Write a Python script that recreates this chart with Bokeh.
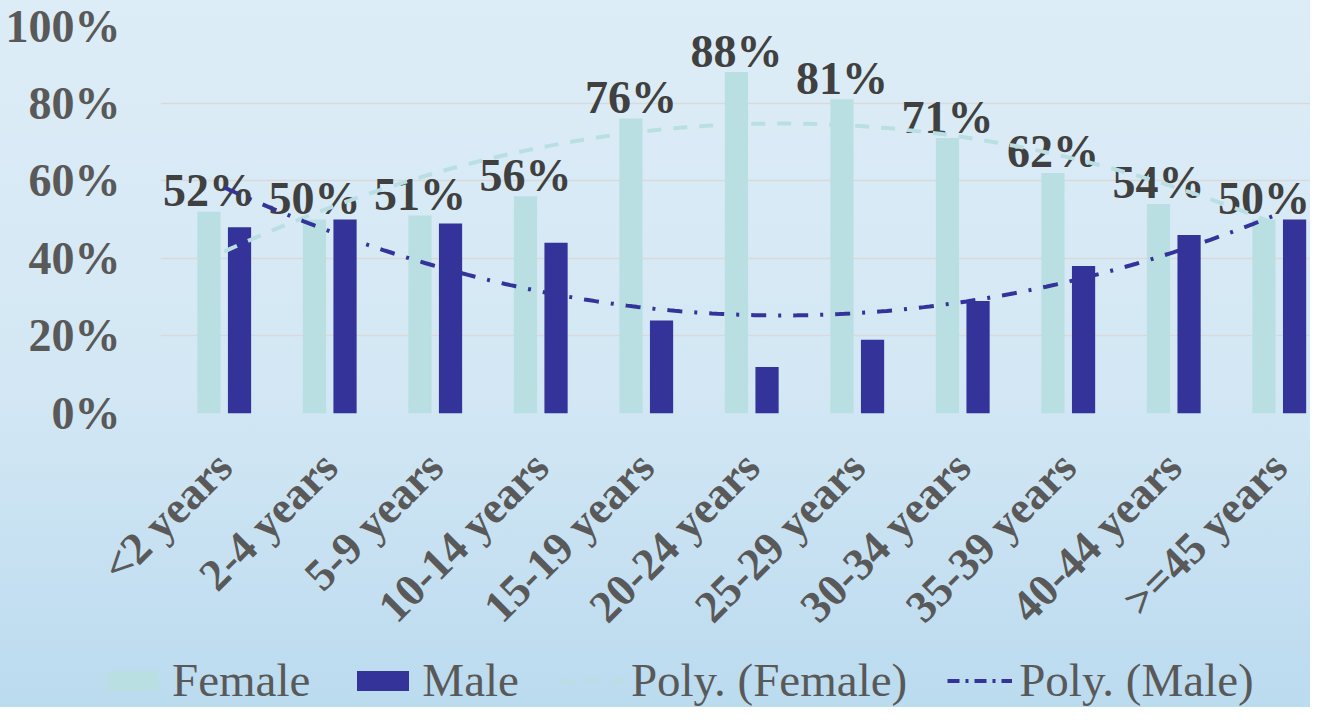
import numpy as np
from bokeh.plotting import figure
from bokeh.layouts import column
from bokeh.models import ColumnDataSource, Range1d, PrintfTickFormatter, FixedTicker, Legend, LegendItem
from bokeh.core.properties import value
from bokeh.embed import file_html
from bokeh.resources import INLINE

categories = ["<2 years", "2-4 years", "5-9 years", "10-14 years", "15-19 years", "20-24 years",
              "25-29 years", "30-34 years", "35-39 years", "40-44 years", ">=45 years"]
female = [52, 50, 51, 56, 76, 88, 81, 71, 62, 54, 50]
male = [48, 50, 49, 44, 24, 12, 19, 29, 38, 46, 50]
y_ticks = [0, 20, 40, 60, 80, 100]
legend_labels = ["Female", "Male", "Poly. (Female)", "Poly. (Male)"]

FEMALE_C = "#B9DFE3"
MALE_C = "#333399"
SERIF = "Liberation Serif"
W = 1310
H_MAIN = 652
H_LEG = 55

idx = np.arange(len(categories))
src = ColumnDataSource(dict(xf=idx - 0.145, xm=idx + 0.145, female=female, male=male,
                            flabel=[f"{v}%" for v in female]))

p = figure(x_range=Range1d(-0.604, 10.296), y_range=Range1d(0, 100), width=W, height=H_MAIN,
           output_backend="svg", toolbar_location=None,
           min_border_left=160, min_border_right=0, min_border_top=25, min_border_bottom=239)
p.styles = {"background-image": "linear-gradient(#DDEDF7, #D3E7F4 60%, #BFDDF0)"}
p.background_fill_color = None
p.border_fill_color = None
p.outline_line_color = None

p.xgrid.grid_line_color = None
p.ygrid.grid_line_color = "#D9D9D9"
p.ygrid.grid_line_width = 1.5
p.yaxis.ticker = FixedTicker(ticks=y_ticks)
p.yaxis.formatter = PrintfTickFormatter(format="%d%%")
p.xaxis.ticker = FixedTicker(ticks=list(idx))
p.xaxis.major_label_overrides = {int(i): c for i, c in zip(idx, categories)}

for ax in (p.xaxis, p.yaxis):
    ax.axis_line_color = None
    ax.major_tick_line_color = None
    ax.minor_tick_line_color = None
    ax.major_label_text_font = SERIF
    ax.major_label_text_font_style = "bold"
    ax.major_label_text_color = "#595959"
p.yaxis.major_label_text_font_size = "46px"
p.xaxis.major_label_text_font_size = "45px"
p.yaxis.major_label_standoff = 34
p.xaxis.major_label_orientation = np.pi / 4
p.xaxis.major_label_standoff = 40

p.vbar(x="xf", top="female", width=0.22, source=src, fill_color=FEMALE_C, line_color=None)
p.vbar(x="xm", top="male", width=0.22, source=src, fill_color=MALE_C, line_color=None)

p.text(x="xf", y="female", text="flabel", source=src,
       text_font=value(SERIF), text_font_style="bold", text_font_size="46px",
       text_color="#404040", text_align="center", text_baseline="alphabetic", y_offset=-21)

# polynomial (order 2) trendlines, as in the original chart
xs = np.linspace(0, len(categories) - 1, 200)
cf = np.polyfit(idx, female, 2)
cm = np.polyfit(idx, male, 2)
trend = ColumnDataSource(dict(x=xs, f=np.polyval(cf, xs), m=np.polyval(cm, xs)))
p.line("x", "f", source=trend, line_color=FEMALE_C, line_width=4, line_dash="14 12")
p.line("x", "m", source=trend, line_color=MALE_C, line_width=4, line_dash="15 12 3 12")

# legend strip below the chart (its glyphs use the same data, kept out of its view)
q = figure(x_range=Range1d(1000, 1001), y_range=Range1d(1000, 1001), width=W, height=H_LEG,
           output_backend="svg", toolbar_location=None,
           min_border_left=0, min_border_right=0, min_border_top=0, min_border_bottom=0)
q.axis.visible = False
q.grid.visible = False
q.outline_line_color = None
q.background_fill_color = None
q.border_fill_color = None
q.styles = {"background-image": "linear-gradient(#BFDDF0, #BBDBEF)"}
l_f = q.vbar(x="xf", top="female", width=0.22, source=src, fill_color=FEMALE_C, line_color=None)
l_m = q.vbar(x="xm", top="male", width=0.22, source=src, fill_color=MALE_C, line_color=None)
l_tf = q.line("x", "f", source=trend, line_color=FEMALE_C, line_width=4, line_dash="14 12")
l_tm = q.line("x", "m", source=trend, line_color=MALE_C, line_width=4, line_dash="12 6 3 6")

leg_x = 100
try:
    p.frame_align = False
    q.frame_align = False
except Exception:
    leg_x = 100 - 160

legend = Legend(items=[LegendItem(label=t, renderers=[r]) for t, r in
                       zip(legend_labels, [l_f, l_m, l_tf, l_tm])],
                orientation="horizontal", location=(leg_x, 0),
                label_text_font=SERIF, label_text_font_size="47px", label_text_color="#595959",
                glyph_width=65, glyph_height=25, label_standoff=7, spacing=40,
                padding=0, margin=0, border_line_color=None, background_fill_alpha=0)
q.add_layout(legend, "center")

layout = column(p, q, spacing=0)
open("out.html", "w").write(file_html(layout, INLINE))
